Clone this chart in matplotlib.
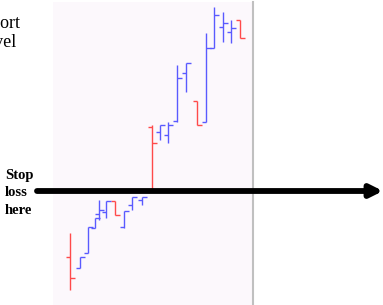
"""Bar chart with a stop loss line under the breakout"""

import matplotlib.pyplot as plt

# bar positions and prices
x = [70, 80, 88, 95, 99, 106, 115, 124, 132, 142, 152, 160, 168, 177, 186, 197, 206, 214, 223, 231, 240]
high = [72, 48, 78, 87, 105, 104, 104, 94, 108, 108, 180, 180, 183, 240, 242, 204, 272, 298, 293, 285, 285]
low = [15, 37, 52, 77, 85, 87, 90, 77, 95, 100, 115, 165, 162, 183, 213, 180, 183, 257, 263, 262, 267]
opens = [48, 37, 52, 77, 91, 93, 104, 78, 100, 105, 178, 173, 170, 184, 232, 204, 183, 257, 278, 273, 285]
close = [27, 48, 78, 87, 95, 104, 90, 94, 108, 108, 162, 180, 180, 227, 242, 180, 257, 290, 282, 277, 267]
stop_level = 114


def main():
    """Draw the bars, the labels and the arrow"""
    fig = plt.figure(figsize=(3.83, 3.05), dpi=100)
    ax = fig.add_axes([53 / 383, 0, 200 / 383, 303 / 305])
    ax.set_facecolor("#fcf8fc")

    colors = ["#5a5aff" if c >= o else "#ff4a4a" for o, c in zip(opens, close)]
    ax.vlines(x, low, high, colors=colors, lw=1.0)
    ax.hlines(opens, [i - 4.5 for i in x], x, colors=colors, lw=1.0)
    ax.hlines(close, x, [i + 4.5 for i in x], colors=colors, lw=1.0)

    ax.set_xlim(53, 253)
    ax.set_ylim(0, 303)
    ax.set_xticks([])
    ax.set_yticks([])
    for side in ["left", "top", "bottom"]:
        ax.spines[side].set_visible(False)
    ax.spines["right"].set_color("#c0c0c0")
    ax.spines["right"].set_linewidth(1.5)

    # label is cut off at the left edge in the original
    fig.text(21 / 383, 1 - 28 / 305, "Support", ha="right", va="baseline",
             family="Liberation Serif", fontsize=13)
    fig.text(17 / 383, 1 - 47 / 305, "level", ha="right", va="baseline",
             family="Liberation Serif", fontsize=13)
    fig.text(5 / 383, 1 - 193 / 305, "Stop\nloss\nhere", ha="left", va="center",
             family="Liberation Serif", fontweight="bold", fontsize=10.5, linespacing=1.4)

    plt.annotate("", xy=(383, stop_level), xytext=(37, stop_level),
                 xycoords="figure pixels", textcoords="figure pixels",
                 arrowprops=dict(arrowstyle="-|>", lw=4.2, color="black",
                                 mutation_scale=18, capstyle="round",
                                 shrinkA=0, shrinkB=0))
    fig.savefig("out.png", dpi=100)


main()
